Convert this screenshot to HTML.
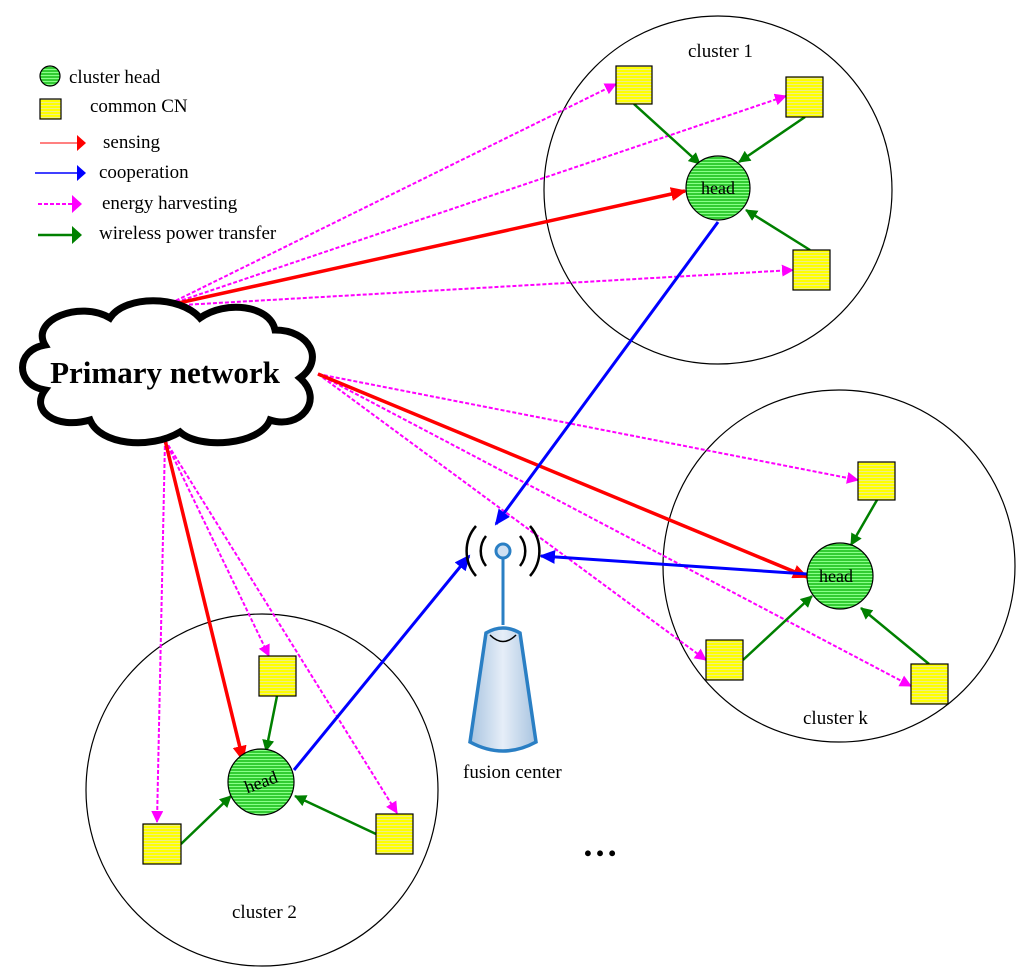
<!DOCTYPE html>
<html><head><style>body{margin:0;background:#fff}svg{display:block}text{font-family:"Liberation Serif",serif}</style></head>
<body>
<svg width="1024" height="974" viewBox="0 0 1024 974" xmlns="http://www.w3.org/2000/svg">
<defs>
<pattern id="hg" width="4" height="3" patternUnits="userSpaceOnUse"><rect width="4" height="3" fill="#3c3"/><rect width="4" height="1" fill="#8f8"/></pattern>
<pattern id="hy" width="4" height="3" patternUnits="userSpaceOnUse"><rect width="4" height="3" fill="#ff0"/><rect width="4" height="1" fill="#ee8"/></pattern>
<linearGradient id="cone" x1="0" x2="1"><stop offset="0" stop-color="#a8c4e0"/><stop offset="0.5" stop-color="#e6eef8"/><stop offset="1" stop-color="#a8c4e0"/></linearGradient>
<marker id="ar" markerWidth="16" markerHeight="14" refX="14" refY="7" orient="auto" markerUnits="userSpaceOnUse" viewBox="0 0 16 14"><path d="M0,0L16,7L0,14z" fill="red"/></marker>
<marker id="ab" markerWidth="16" markerHeight="14" refX="14" refY="7" orient="auto" markerUnits="userSpaceOnUse" viewBox="0 0 16 14"><path d="M0,0L16,7L0,14z" fill="blue"/></marker>
<marker id="am" markerWidth="12" markerHeight="12" refX="11" refY="6" orient="auto" markerUnits="userSpaceOnUse" viewBox="0 0 12 12"><path d="M0,0L12,6L0,12z" fill="magenta"/></marker>
<marker id="ag" markerWidth="12" markerHeight="12" refX="11" refY="6" orient="auto" markerUnits="userSpaceOnUse" viewBox="0 0 12 12"><path d="M0,0L12,6L0,12z" fill="green"/></marker>
</defs>
<g fill="none" stroke="#000" stroke-width="1.2">
<circle cx="718" cy="190" r="174"/><circle cx="839" cy="566" r="176"/><circle cx="262" cy="790" r="176"/>
</g>
<!-- legend -->
<circle cx="50" cy="76" r="10" fill="url(#hg)" stroke="#000" stroke-width="1.2"/>
<rect x="40" y="99" width="21" height="20" fill="url(#hy)" stroke="#000" stroke-width="1.2"/>
<line x1="40" y1="143" x2="78" y2="143" stroke="red" stroke-width="1"/><path d="M77,135L86,143L77,151z" fill="red"/>
<line x1="35" y1="173" x2="78" y2="173" stroke="blue" stroke-width="1.5"/><path d="M77,165L86,173L77,181z" fill="blue"/>
<line x1="38" y1="204" x2="73" y2="204" stroke="magenta" stroke-width="2" stroke-dasharray="4,2"/><path d="M72,195L82,204L72,213z" fill="magenta"/>
<line x1="38" y1="235" x2="73" y2="235" stroke="green" stroke-width="2.5"/><path d="M72,226L82,235L72,244z" fill="green"/>
<g font-size="19" fill="#000">
<text x="69" y="83">cluster head</text><text x="90" y="112">common CN</text><text x="103" y="148">sensing</text><text x="99" y="178">cooperation</text><text x="102" y="209">energy harvesting</text><text x="99" y="239">wireless power transfer</text>
<text x="688" y="57">cluster 1</text><text x="803" y="724">cluster k</text><text x="232" y="918">cluster 2</text><text x="463" y="778">fusion center</text>
</g>
<text x="582" y="856" font-size="36" font-weight="bold">…</text>
<!-- magenta -->
<g stroke="magenta" stroke-width="2" stroke-dasharray="4,2" fill="none" marker-end="url(#am)">
<line x1="165" y1="306" x2="616" y2="84"/><line x1="165" y1="306" x2="786" y2="96"/><line x1="165" y1="306" x2="793" y2="270"/>
<line x1="318" y1="374" x2="858" y2="480"/><line x1="318" y1="374" x2="706" y2="660"/><line x1="318" y1="374" x2="911" y2="686"/>
<line x1="165" y1="440" x2="157" y2="822"/><line x1="165" y1="440" x2="269" y2="656"/><line x1="165" y1="440" x2="397" y2="813"/>
</g>
<g stroke="red" stroke-width="3.5" marker-end="url(#ar)">
<line x1="165" y1="306" x2="685" y2="191"/><line x1="318" y1="374" x2="807" y2="577"/><line x1="165" y1="440" x2="243" y2="760"/>
</g>
<g stroke="blue" stroke-width="3" marker-end="url(#ab)">
<line x1="718" y1="222" x2="496" y2="524"/><line x1="294" y1="770" x2="469" y2="556"/><line x1="807" y1="574" x2="541" y2="556"/>
</g>
<g stroke="green" stroke-width="2.5" marker-end="url(#ag)">
<line x1="634" y1="104" x2="700" y2="164"/><line x1="805" y1="117" x2="739" y2="162"/><line x1="810" y1="250" x2="746" y2="210"/>
<line x1="877" y1="500" x2="851" y2="545"/><line x1="743" y1="660" x2="812" y2="596"/><line x1="929" y1="664" x2="861" y2="608"/>
<line x1="277" y1="696" x2="266" y2="751"/><line x1="181" y1="844" x2="231" y2="796"/><line x1="376" y1="834" x2="295" y2="796"/>
</g>
<g fill="url(#hg)" stroke="#000" stroke-width="1.2">
<circle cx="718" cy="188" r="32"/><circle cx="840" cy="576" r="33"/><circle cx="261" cy="782" r="33"/>
</g>
<g font-size="18"><text x="701" y="194">head</text><text x="819" y="582">head</text><text x="244" y="788" transform="rotate(-20 261 782)">head</text></g>
<g fill="url(#hy)" stroke="#000" stroke-width="1.2">
<rect x="616" y="66" width="36" height="38"/><rect x="786" y="77" width="37" height="40"/><rect x="793" y="250" width="37" height="40"/>
<rect x="858" y="462" width="37" height="38"/><rect x="706" y="640" width="37" height="40"/><rect x="911" y="664" width="37" height="40"/>
<rect x="259" y="656" width="37" height="40"/><rect x="143" y="824" width="38" height="40"/><rect x="376" y="814" width="37" height="40"/>
</g>
<!-- cloud -->
<path d="M45,345 C30,320 80,300 110,318 C125,295 180,295 200,318 C225,300 270,305 275,330 C310,330 325,360 300,378 C325,400 300,430 270,420 C260,445 200,450 180,432 C150,450 100,445 90,420 C55,430 30,410 45,390 C15,385 15,350 45,345 Z" fill="#fff" stroke="#000" stroke-width="7"/>
<text x="165" y="383" font-size="31" font-weight="bold" text-anchor="middle">Primary network</text>
<!-- antenna -->
<g fill="none" stroke="#000" stroke-width="2.5">
<path d="M476,526 A38,38 0 0 0 476,576"/><path d="M530,526 A38,38 0 0 1 530,576"/>
<path d="M486,536 A24,24 0 0 0 486,566"/><path d="M520,536 A24,24 0 0 1 520,566"/>
</g>
<line x1="503" y1="556" x2="503" y2="625" stroke="#2a7fc4" stroke-width="3"/>
<circle cx="503" cy="551" r="7" fill="#cfe0f2" stroke="#2a7fc4" stroke-width="3"/>
<path d="M486,633 L470,742 Q503,760 536,742 L520,633 Q503,623 486,633 Z" fill="url(#cone)" stroke="#2a7fc4" stroke-width="3.5"/>
<path d="M490,635 Q503,648 516,635" fill="none" stroke="#000" stroke-width="1.5"/>
</svg>
</body></html>
